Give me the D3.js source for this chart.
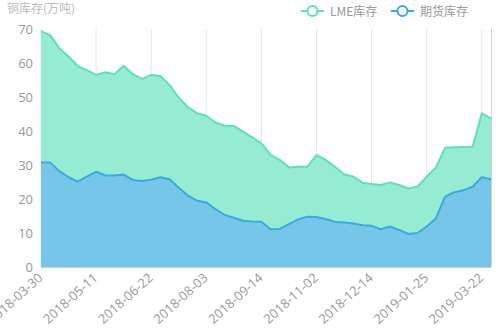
<!DOCTYPE html>
<html><head><meta charset="utf-8">
<script src="https://cdn.jsdelivr.net/npm/d3@7/dist/d3.min.js"></script>
<style>body{margin:0;background:#fff}svg{display:block;font-family:"Noto Sans CJK SC","Noto Sans",sans-serif}</style>
</head><body><svg id="c" width="502" height="331"></svg>
<script>
const categories = ["2018-03-30","2018-04-06","2018-04-13","2018-04-20","2018-04-27","2018-05-04","2018-05-11","2018-05-18","2018-05-25","2018-06-01","2018-06-08","2018-06-15","2018-06-22","2018-06-29","2018-07-06","2018-07-13","2018-07-20","2018-07-27","2018-08-03","2018-08-10","2018-08-17","2018-08-24","2018-08-31","2018-09-07","2018-09-14","2018-09-21","2018-09-28","2018-10-12","2018-10-19","2018-10-26","2018-11-02","2018-11-09","2018-11-16","2018-11-23","2018-11-30","2018-12-07","2018-12-14","2018-12-21","2018-12-28","2019-01-04","2019-01-11","2019-01-18","2019-01-25","2019-02-01","2019-02-22","2019-03-01","2019-03-08","2019-03-15","2019-03-22","2019-03-29"];
const futuresStock = [30.7,30.7,28.2,26.4,25.1,26.6,28.0,26.9,26.9,27.2,25.6,25.3,25.7,26.4,25.8,23.3,21.0,19.5,19.0,17.0,15.3,14.5,13.6,13.4,13.3,11.1,11.2,12.6,14.0,14.8,14.7,14.1,13.3,13.1,12.8,12.3,12.1,11.1,11.9,10.9,9.7,10.0,11.9,14.3,20.7,22.0,22.6,23.6,26.4,25.8];
const lmeStock = [38.7,37.5,36.1,35.5,34.0,31.3,28.5,30.4,29.8,32.0,31.1,30.0,30.8,29.8,27.7,26.5,26.0,25.7,25.5,25.5,26.3,27.0,26.2,24.7,23.1,21.9,20.3,16.7,15.5,14.7,18.2,17.4,16.2,14.2,13.8,12.5,12.3,13.0,13.0,13.2,13.4,13.6,14.7,14.9,14.4,13.2,12.7,11.8,18.8,17.9];
const yTicks = [0,10,20,30,40,50,60,70];
const seriesNames = ["LME库存","期货库存"];

const svg = d3.select("#c");
const L = 41, R = 491, T = 29, B = 267;
const x = d3.scalePoint().domain(categories).range([L, R]);
const y = d3.scaleLinear().domain([0, 70]).range([B, T]);

const rows = categories.map((c, i) => ({date: c, fut: futuresStock[i], lme: lmeStock[i]}));
const stack = d3.stack().keys(["fut", "lme"])(rows);

const labelIdx = categories.map((c, i) => i).filter(i => i % 6 === 0);

// grid lines
svg.append("g").selectAll("line").data(labelIdx).join("line")
  .attr("x1", i => x(categories[i])).attr("x2", i => x(categories[i]))
  .attr("y1", T).attr("y2", B).attr("stroke", "#e6e6e6").attr("stroke-width", 1);
svg.append("line").attr("x1", R + 0.5).attr("x2", R + 0.5).attr("y1", T).attr("y2", B)
  .attr("stroke", "#d0d0d0");

const colors = {fut: {fill: "#76c6ea", line: "#3ea9e0"}, lme: {fill: "#96ebd3", line: "#5de1b9"}};

const area = d3.area().x((d, i) => x(categories[i])).y0(d => y(d[0])).y1(d => y(d[1]));
const line = d3.line().x((d, i) => x(categories[i])).y(d => y(d[1]));

const order = [stack[1], stack[0]];
order.forEach(s => {
  svg.append("path").datum(s).attr("d", area).attr("fill", colors[s.key].fill);
});
order.forEach(s => {
  svg.append("path").datum(s).attr("d", line).attr("fill", "none")
    .attr("stroke", colors[s.key].line).attr("stroke-width", 2).attr("stroke-linejoin", "round");
});

// x axis line
svg.append("line").attr("x1", L).attr("x2", R).attr("y1", B + 0.5).attr("y2", B + 0.5)
  .attr("stroke", "#cccccc");

// y axis labels
const yAxis = d3.axisLeft(y).tickValues(yTicks).tickSize(0).tickPadding(8);
const yg = svg.append("g").attr("transform", `translate(${L},0)`).call(yAxis);
yg.select(".domain").remove();
yg.selectAll("text").attr("fill", "#999").style("font-size", "13px").style("font-family", "'Open Sans',sans-serif");

// x axis labels
const xAxis = d3.axisBottom(x).tickValues(labelIdx.map(i => categories[i])).tickSize(0).tickPadding(0);
const xg = svg.append("g").attr("transform", `translate(0,${B})`).call(xAxis);
xg.select(".domain").remove();
xg.selectAll("text").attr("fill", "#999").style("font-size", "13px")
  .style("font-family", "'Open Sans',sans-serif")
  .attr("text-anchor", "end").attr("dy", null).attr("y", 0)
  .attr("transform", "translate(2,12) rotate(-42)");

// axis title
svg.append("text").attr("x", 7).attr("y", 13).text("铜库存(万吨)")
  .attr("fill", "#bbb").style("font-size", "12px");

// legend
const leg = [{name: seriesNames[0], c: colors.lme.line, x: 301}, {name: seriesNames[1], c: colors.fut.line, x: 391}];
leg.forEach(l => {
  const g = svg.append("g").attr("transform", `translate(${l.x},11)`);
  g.append("line").attr("x1", 0).attr("x2", 23).attr("y1", 0).attr("y2", 0).attr("stroke", l.c).attr("stroke-width", 2);
  g.append("circle").attr("cx", 11.5).attr("cy", 0).attr("r", 5).attr("fill", "#fff").attr("stroke", l.c).attr("stroke-width", 2);
  g.append("text").attr("x", 29).attr("y", 4.5).text(l.name).attr("fill", "#999").style("font-size", "12px");
});
</script></body></html>
